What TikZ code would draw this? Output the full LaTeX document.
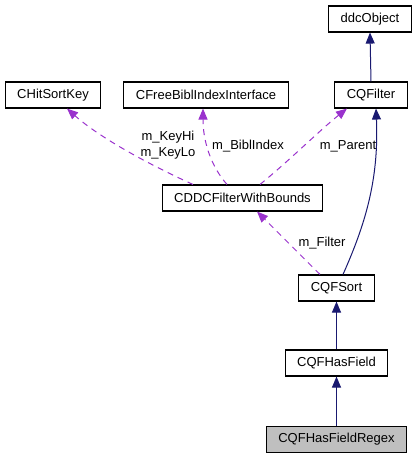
\documentclass[tikz,border=0pt]{standalone}
\usepackage{fontspec}
\setmainfont{Liberation Sans}
\usetikzlibrary{arrows.meta}
\definecolor{navy}{HTML}{191970}
\definecolor{orchid}{HTML}{9A32CD}
\definecolor{shade}{HTML}{BFBFBF}
\tikzset{
  cls/.style={draw=black, line width=1.1pt, fill=white, minimum height=26pt, inner xsep=12pt, inner ysep=0pt, font=\fontsize{13}{16}\selectfont},
  pub/.style={draw=navy, line width=1pt, -{Triangle[length=11pt,width=9pt]}},
  member/.style={draw=orchid, line width=1pt, dash pattern=on 6pt off 5pt, -{Triangle[length=11pt,width=9pt]}},
  lab/.style={font=\fontsize{13}{16}\selectfont, inner sep=0pt, align=center},
}
\begin{document}
\begin{tikzpicture}[x=1pt,y=-1pt]
  \useasboundingbox (0,0) rectangle (418,459);
  % classes
  \node[cls] (ddc) at (370,19) {ddcObject};
  \node[cls] (hitkey) at (53,95) {CHitSortKey};
  \node[cls] (freebibl) at (206,95) {CFreeBiblIndexInterface};
  \node[cls] (cqfilter) at (371,95) {CQFilter};
  \node[cls] (cddc) at (242.5,198) {CDDCFilterWithBounds};
  \node[cls] (sort) at (336.5,288) {CQFSort};
  \node[cls] (hasfield) at (336.5,363) {CQFHasField};
  \node[cls, fill=shade] (regex) at (336.5,439.5) {CQFHasFieldRegex};
  % inheritance
  \draw[pub] (cqfilter.north) -- (ddc.south);
  \draw[pub] ([xshift=6.5pt]sort.north) .. controls (365,225) and (379,180) .. ([xshift=5pt]cqfilter.south);
  \draw[pub] (hasfield.north) -- (sort.south);
  \draw[pub] (regex.north) -- (hasfield.south);
  % members
  \draw[member] ([xshift=-49.5pt]cddc.north) .. controls (150,165) and (100,138) .. ([xshift=14pt]hitkey.south);
  \draw[member] ([xshift=-15.5pt]cddc.north) .. controls (210,165) and (203,140) .. ([xshift=-3pt]freebibl.south);
  \draw[member] ([xshift=17.5pt]cddc.north) .. controls (290,160) and (320,130) .. ([xshift=-24pt]cqfilter.south);
  \draw[member] ([xshift=-16.5pt]sort.north) -- ([xshift=14.5pt]cddc.south);
  \node[lab] (lkey) at (168,145) {m\_KeyHi\\m\_KeyLo};
  \node[lab] (lbibl) at (248,146) {m\_BiblIndex};
  \node[lab] (lparent) at (348,146) {m\_Parent};
  \node[lab] (lfilter) at (322,243) {m\_Filter};
\end{tikzpicture}
\end{document}
